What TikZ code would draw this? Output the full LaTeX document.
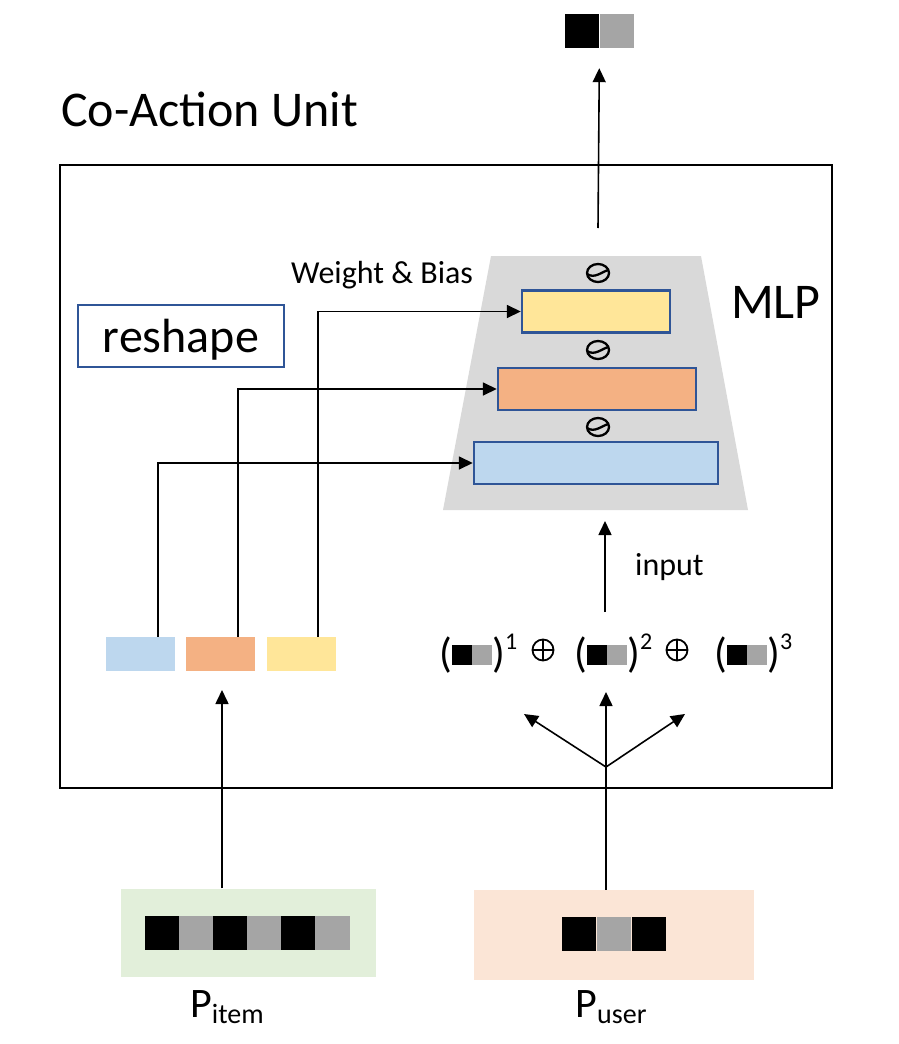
\documentclass[tikz,border=0pt]{standalone}
\usepackage{fontspec}
\setmainfont{Carlito}
\usepackage{tikz}
\usetikzlibrary{arrows.meta,positioning,calc}
\definecolor{itemgreen}{HTML}{E2EFDA}
\definecolor{userpeach}{HTML}{FBE5D6}
\definecolor{mlpgray}{HTML}{D9D9D9}
\definecolor{layblue}{HTML}{BDD7EE}
\definecolor{layorange}{HTML}{F4B183}
\definecolor{layyellow}{HTML}{FFE699}
\definecolor{frameblue}{HTML}{2F5597}
\definecolor{vecgray}{HTML}{A5A5A5}
\newcommand{\fsz}[1]{\fontsize{#1}{#1}\selectfont}

\begin{document}
\begin{tikzpicture}[
  x=1pt, y=-1pt,
  >={Triangle[length=14pt,width=13pt]},
  edge/.style={->, draw=black, line width=1.6pt},
  txt/.style={inner sep=0pt},
  layer/.style={rectangle, draw=frameblue, line width=2.4pt,
                minimum height=42pt, inner sep=0pt},
  chunk/.style={rectangle, minimum width=69pt, minimum height=34pt, inner sep=0pt},
  cell/.style={rectangle, minimum width=34.2pt, minimum height=34pt, inner sep=0pt},
  mini/.style={rectangle, minimum width=19.5pt, minimum height=19.5pt, inner sep=0pt},
  oplus/.style={circle, draw, line width=1.8pt, minimum size=21pt, inner sep=0pt,
                path picture={\draw[line width=1.8pt]
                  (path picture bounding box.north) -- (path picture bounding box.south)
                  (path picture bounding box.west) -- (path picture bounding box.east);}},
  actsign/.pic={\draw[line width=2.3pt] (0,0) ellipse (11pt and 9pt);
                \draw[line width=2.3pt] (-11pt,-1pt) .. controls (-3pt,-6pt) and (3pt,1pt) .. (10.5pt,3pt);},
]
\useasboundingbox (0,0) rectangle (898,1044);

\node[txt, anchor=base west, font=\fsz{50}] (title) at (61,126) {Co-Action Unit};
\node[draw, line width=2pt, minimum width=772pt, minimum height=623pt, inner sep=0pt] (unit) at (446,476.5) {};

\fill[mlpgray] (491,256) -- (701,256) -- (748,510) -- (443,510) -- cycle;
\node[txt, anchor=base west, font=\fsz{50}] (mlp) at (731,318) {MLP};

\node[layer, fill=layyellow, minimum width=148pt] (l3) at (596,311.5) {};
\node[layer, fill=layorange, minimum width=198pt] (l2) at (597,389) {};
\node[layer, fill=layblue, minimum width=244pt] (l1) at (596,463) {};
\foreach \y in {273,350,427} \pic at (598,\y) {actsign};

\node[draw=frameblue, line width=2pt, minimum width=206pt, minimum height=62pt,
      inner sep=0pt, text depth=0pt, font=\fsz{48}] (reshape) at (181,336) {reshape};

\node[chunk, fill=layblue] (c1) at (140.5,654) {};
\node[chunk, fill=layorange] (c2) at (220.5,654) {};
\node[chunk, fill=layyellow] (c3) at (301,654) {};

\draw[edge] ([xshift=17.5pt]c1.north) |- (l1.west);
\draw[edge] ([xshift=17.5pt]c2.north) |- (l2.west);
\draw[edge] ([xshift=17pt]c3.north) |- (l3.west);
\node[txt, anchor=base west, font=\fsz{32}] (wb) at (291,283) {Weight \& Bias};

\node[cell, fill=black] (o1) at (582,31) {};
\node[cell, fill=vecgray, right=0pt of o1] (o2) {};
\coordinate (mlptop) at (598,228);
\draw[edge] (mlptop) -- ([yshift=-20pt]o1.south east);

\foreach \k/\x in {1/452,2/587,3/727}{
  \node[mini, fill=black, anchor=north west] (b\k) at (\x,645) {};
  \node[mini, fill=vecgray, right=0pt of b\k] (g\k) {};
  \node[txt, font=\fsz{42}, left=0pt of b\k] (lp\k) {(};
  \node[txt, font=\fsz{42}, right=0pt of g\k] (rp\k) {)};
  \node[txt, font=\fsz{24}, anchor=west] (sp\k) at ([xshift=0pt,yshift=13pt]rp\k.east) {\k};
}
\node[oplus] (op1) at (543,650) {};
\node[oplus] (op2) at (677,650) {};

\coordinate (inp) at (605,612);
\coordinate (mlpbot) at (605,521);
\draw[edge] (inp) -- (mlpbot);
\node[txt, anchor=base west, font=\fsz{32}] (inlbl) at (635,575) {input};

\node[fill=itemgreen, minimum width=255pt, minimum height=88pt, inner sep=0pt] (item) at (248.5,932.5) {};
\foreach \i/\c in {0/black,1/vecgray,2/black,3/vecgray,4/black,5/vecgray}
  \node[cell, fill=\c, anchor=west] (ic\i) at (144.3+34.17*\i,933) {};
\node[fill=userpeach, minimum width=280pt, minimum height=90pt, inner sep=0pt] (user) at (614,935) {};
\foreach \i/\c in {0/black,1/vecgray,2/black}
  \node[cell, fill=\c, anchor=west] (uc\i) at (562+34.7*\i,934) {};

\node[txt, anchor=base, font=\fsz{42}] (pitem) at (227,1017) {P\raisebox{-6pt}{\fsz{28}item}};
\node[txt, anchor=base, font=\fsz{42}] (puser) at (611,1017) {P\raisebox{-6pt}{\fsz{28}user}};

\coordinate (itemtip) at (222,690);
\draw[edge] (item.north -| itemtip) -- (itemtip);

\coordinate (fork) at (606,767);
\coordinate (tipL) at (524,714);
\coordinate (tipM) at (606,692);
\coordinate (tipR) at (685,714);
\draw[edge] (user.north -| fork) -- (tipM);
\draw[edge] (fork) -- (tipL);
\draw[edge] (fork) -- (tipR);
\end{tikzpicture}
\end{document}
